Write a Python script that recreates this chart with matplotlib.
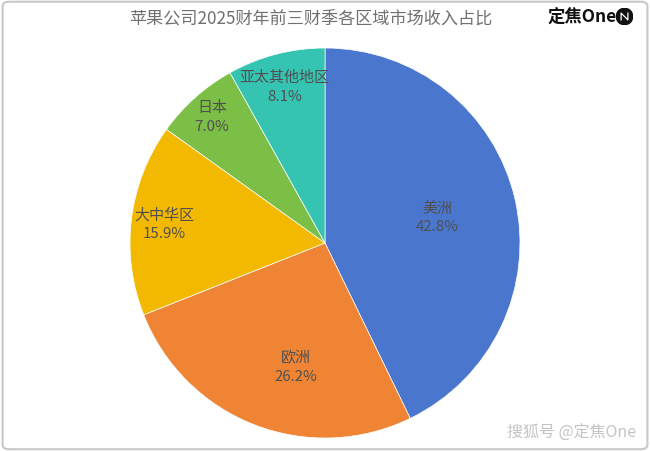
import matplotlib
matplotlib.use("Agg")
import matplotlib.pyplot as plt
import numpy as np
from matplotlib.patches import FancyBboxPatch, Circle

plt.rcParams['font.family'] = ['Noto Sans CJK SC', 'DejaVu Sans']

regions = ['美洲', '欧洲', '大中华区', '日本', '亚太其他地区']
shares = [42.8, 26.2, 15.9, 7.0, 8.1]
colors = ['#4a76cd', '#ee8434', '#f3b900', '#7cbf46', '#35c3b2']
title = '苹果公司2025财年前三财季各区域市场收入占比'

# label placement per slice (layout only): radial distance and angular nudge (deg)
label_dist = [0.59, 0.65, 0.83, 0.87, 0.83]
label_nudge = [0, 8, 0, 0, 0]

fig = plt.figure(figsize=(6.5, 4.52), dpi=100)
fig.patch.set_facecolor('white')

W, H = 650, 452

# pie axes: center (325, 244), radius ~195 px
cx, cy, r = 325, 244, 195
ax = fig.add_axes([(cx - r) / W, 1 - (cy + r) / H, 2 * r / W, 2 * r / H])
labels = [f'{n}\n{v:.1f}%' for n, v in zip(regions, shares)]
wedges, texts = ax.pie(shares, colors=colors, startangle=90, counterclock=False,
                       labels=labels, labeldistance=0.6,
                       wedgeprops=dict(linewidth=0.5, edgecolor='white'),
                       textprops=dict(fontsize=10.8, color='#505050', ha='center', va='center',
                                      linespacing=1.4))
for w, t, d, n in zip(wedges, texts, label_dist, label_nudge):
    ang = np.deg2rad((w.theta1 + w.theta2) / 2 + n)
    t.set_position((d * np.cos(ang), d * np.sin(ang)))
    t.set_ha('center')
ax.set_aspect('equal')
ax.set_xlim(-1, 1)
ax.set_ylim(-1, 1)
ax.axis('off')

fig.text(311 / W, 1 - 18 / H, title, ha='center', va='center', fontsize=12.3, color='#707070')

# top-right brand
fig.text(548 / W, 1 - 18 / H, '定焦One', ha='left', va='center', fontsize=12.5,
         color='#111111', fontweight='bold')
lax = fig.add_axes([616 / W, 1 - 26 / H, 17 / W, 17 / H])
lax.set_xlim(-1, 1); lax.set_ylim(-1, 1); lax.set_aspect('equal'); lax.axis('off')
lax.add_patch(Circle((0, 0), 0.97, color='#111111'))
lax.plot([-0.4, -0.4, 0.4, 0.4], [-0.4, 0.4, -0.4, 0.4], color='white', lw=0.9)

# bottom-right watermark
fig.text(636 / W, 1 - 433 / H, '搜狐号 @定焦One', ha='right', va='center', fontsize=11.5,
         color='#c4c4c4')

# frame
frame = FancyBboxPatch((0.004, 0.004), 0.992, 0.99, boxstyle='round,pad=0,rounding_size=0.01',
                       transform=fig.transFigure, facecolor='none', edgecolor='#c8c8c8',
                       linewidth=1.5, zorder=10)
fig.patches.append(frame)

fig.savefig('out.png', dpi=100)
